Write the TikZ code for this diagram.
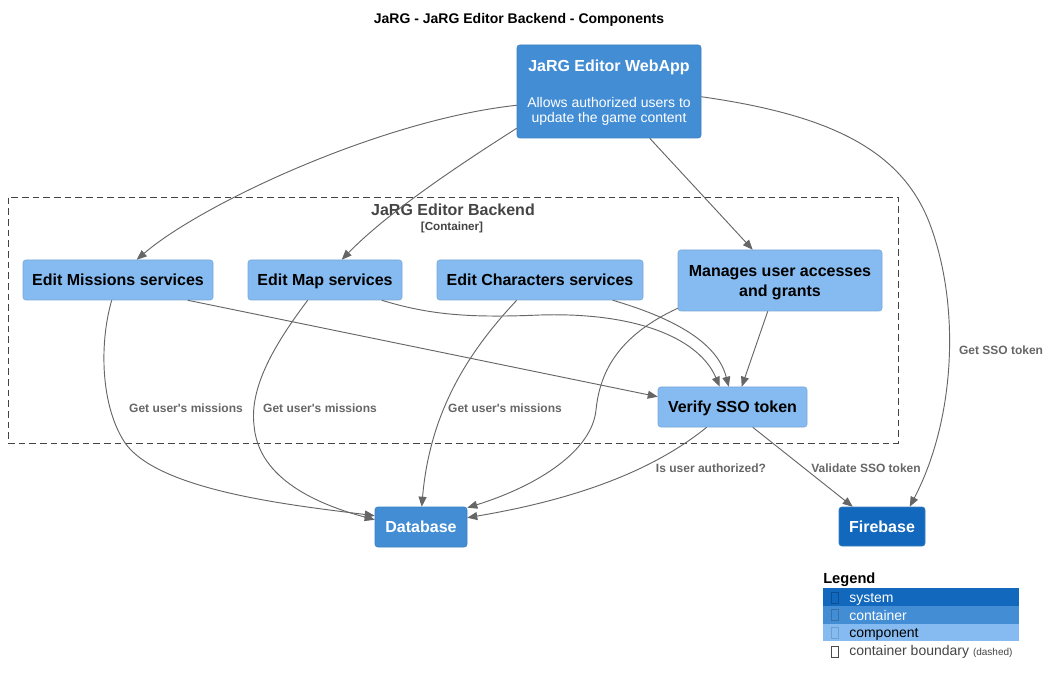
\documentclass[tikz,border=0pt]{standalone}
\usepackage{fontspec}
\setmainfont{Liberation Sans}[Ligatures=TeXOff]
\usetikzlibrary{arrows.meta,calc}
\definecolor{sysc}{HTML}{1168BD}
\definecolor{sysb}{HTML}{3C7FC0}
\definecolor{contc}{HTML}{438DD5}
\definecolor{contb}{HTML}{3C7FC0}
\definecolor{compc}{HTML}{85BBF0}
\definecolor{compb}{HTML}{78A8D8}
\definecolor{relc}{HTML}{666666}
\definecolor{bndc}{HTML}{444444}
\begin{document}
\begin{tikzpicture}[x=0.75pt,y=-0.75pt,
  box/.style={rectangle, rounded corners=2pt, inner sep=0pt, align=center, line width=0.4pt, text depth=0pt},
  comp/.style={box, fill=compc, draw=compb, text=black, font=\fontsize{12}{15}\selectfont\bfseries},
  cont/.style={box, fill=contc, draw=contb, text=white, font=\fontsize{12}{15}\selectfont\bfseries},
  sys/.style={box, fill=sysc, draw=sysb, text=white, font=\fontsize{12}{15}\selectfont\bfseries},
  rel/.style={draw=relc, line width=0.7pt, -{Triangle[length=7.5pt,width=6pt]}},
  lbl/.style={text=relc, font=\fontsize{9}{11}\selectfont\bfseries, inner sep=0pt},
  legtxt/.style={anchor=base west, inner sep=0pt, font=\fontsize{10.5}{12}\selectfont},
  tofu/.style={line width=0.5pt}
]
\useasboundingbox (0,0) rectangle (1050,684);

% title
\node[font=\fontsize{10.5}{12}\selectfont\bfseries, inner sep=0pt] (title) at (519,20) {JaRG - JaRG Editor Backend - Components};

% boundary
\node[draw=bndc, dash pattern=on 5pt off 3pt, line width=0.6pt, minimum width=667.5pt, minimum height=184.5pt, inner sep=0pt] (backend) at (453,320) {};
\node[text=bndc, font=\fontsize{12}{14}\selectfont\bfseries, inner sep=0pt] (bname) at (453,210) {JaRG Editor Backend};
\node[text=bndc, font=\fontsize{8.75}{10}\selectfont\bfseries, inner sep=0pt] (btype) at (452,227) {[Container]};

% nodes
\node[cont, minimum width=138pt, minimum height=69.75pt, font=\fontsize{10.5}{11.25}\selectfont] (webapp) at (609,91.5)
  {{\fontsize{12}{14}\selectfont\bfseries JaRG Editor WebApp}\\[15.75pt]Allows authorized users to\\update the game content};
\node[comp, minimum width=142.5pt, minimum height=30pt] (missions) at (118,280) {Edit Missions services};
\node[comp, minimum width=115.5pt, minimum height=30pt] (map) at (325,280) {Edit Map services};
\node[comp, minimum width=154.5pt, minimum height=30pt] (chars) at (540,280) {Edit Characters services};
\node[comp, minimum width=153pt, minimum height=45.75pt] (manages) at (780,280.5) {Manages user accesses\\and grants};
\node[comp, minimum width=111.75pt, minimum height=30pt] (verify) at (732.5,407) {Verify SSO token};
\node[cont, minimum width=69pt, minimum height=30pt] (database) at (421,527) {Database};
\node[sys, minimum width=64.5pt, minimum height=29.25pt] (firebase) at (882,526.5) {Firebase};

% relations
\draw[rel] ($(webapp.south west)+(0,-33)$) .. controls (380,120) and (200,205) .. ($(missions.north west)+(114,0)$);
\draw[rel] ($(webapp.south west)+(0,-10)$) .. controls (470,158) and (390,210) .. ($(map.north west)+(94,0)$);
\draw[rel] ($(webapp.south west)+(133,0)$) -- ($(manages.north west)+(75,0)$);
\draw[rel] ($(webapp.north east)+(0,52)$) .. controls (830,115) and (905,150) .. (932,230)
  .. controls (960,310) and (955,420) .. ($(firebase.north west)+(71,0)$);

\draw[rel] ($(missions.south west)+(89,0)$) .. controls (100,340) and (100,400) .. (122,438)
  .. controls (150,490) and (290,505) .. ($(database.north west)+(0,9)$);
\draw[rel] ($(map.south west)+(60,0)$) .. controls (270,350) and (250,390) .. (254,425)
  .. controls (258,480) and (320,505) .. ($(database.north west)+(0,13)$);
\draw[rel] ($(chars.south west)+(80,0)$) .. controls (470,350) and (430,410) .. ($(database.north west)+(47,0)$);
\draw[rel] ($(manages.south west)+(0,-3)$) .. controls (620,335) and (600,370) .. (596,410)
  .. controls (592,450) and (540,485) .. ($(database.north east)+(0,1)$);
\draw[rel] ($(verify.south west)+(49,0)$) .. controls (660,465) and (590,497) .. ($(database.north east)+(0,11)$);

\draw[rel] ($(missions.south west)+(165,0)$) -- ($(verify.north west)+(0,10)$);
\draw[rel] ($(map.south west)+(134,0)$) .. controls (430,315) and (470,318) .. (540,315)
  .. controls (640,312) and (700,340) .. ($(verify.north west)+(62,0)$);
\draw[rel] ($(chars.south west)+(176,0)$) .. controls (680,320) and (718,345) .. ($(verify.north west)+(71,0)$);
\draw[rel] ($(manages.south west)+(90,0)$) -- ($(verify.north west)+(84,0)$);
\draw[rel] ($(verify.south west)+(95,0)$) -- ($(firebase.north west)+(14,0)$);

% labels
\node[lbl] (l1) at (186,408) {Get user's missions};
\node[lbl] (l2) at (320,408) {Get user's missions};
\node[lbl] (l3) at (505,408) {Get user's missions};
\node[lbl] (l4) at (711,468) {Is user authorized?};
\node[lbl] (l5) at (866,468) {Validate SSO token};
\node[lbl] (l6) at (1001,350) {Get SSO token};

% legend
\node[anchor=west, inner sep=0pt, font=\fontsize{11}{13}\selectfont\bfseries] (leg) at (823,580) {Legend};
\fill[sysc] (823,588) rectangle (1019,606);
\fill[contc] (823,606) rectangle (1019,623.5);
\fill[compc] (823,623.5) rectangle (1019,641);
\draw[tofu, draw=black!25!sysc] (831,592) rectangle (838,603);
\draw[tofu, draw=black!20!contc] (831,609.5) rectangle (838,620.5);
\draw[tofu, draw=black!15!compc] (831,627) rectangle (838,638);
\draw[tofu, draw=black!70] (831,646) rectangle (838,657);
\node[legtxt, text=white] (lsys) at (849,602.5) {system};
\node[legtxt, text=white] (lcont) at (849,620) {container};
\node[legtxt, text=black] (lcomp) at (849,637.5) {component};
\node[legtxt, text=bndc] (lbnd) at (849,655.5) {container boundary {\fontsize{7.5}{9}\selectfont(dashed)}};
\end{tikzpicture}
\end{document}
